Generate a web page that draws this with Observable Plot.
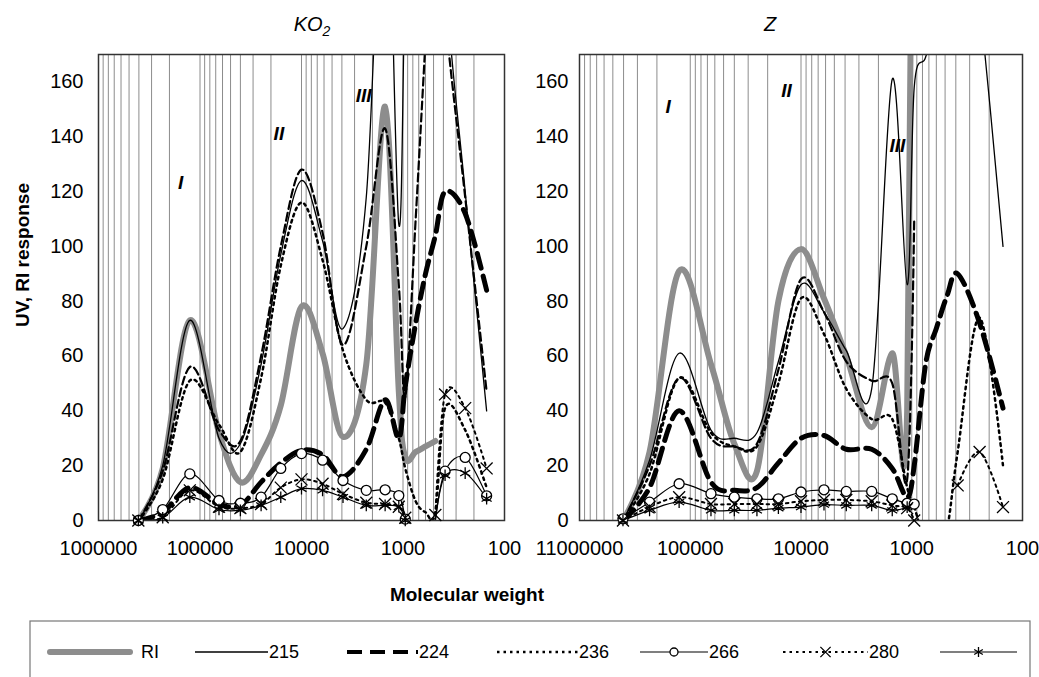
<!DOCTYPE html>
<html><head><meta charset="utf-8">
<script src="https://cdn.jsdelivr.net/npm/d3@7"></script>
<script src="https://cdn.jsdelivr.net/npm/@observablehq/plot@0.6"></script>
<style>
html,body{margin:0;padding:0;background:#fff;}
#root{position:relative;width:1039px;height:677px;overflow:hidden;font-family:"Liberation Sans",Arial,sans-serif;}
#root > svg{position:absolute;}
</style></head><body><div id="root"></div>
<script>
// ---- data ----
const mw = [405000, 233000, 126000, 65000, 40000, 25000, 16000, 10000, 6200, 3900, 2300, 1500, 1100, 950, 750, 600, 480, 385, 244, 150];

// KO2 panel
const ko2_RI    = [0, 19, 73, 32, 14, 24, 42, 78, 61, 30.5, 57, 151, 47, 23, 25, 27, 29, null, null, null];
const ko2_215   = [0, 20, 73, 30, 28, 57, 97, 124, 102, 70, 118, 250, 108, 200, 320, 360, 300, 200, 120, 40];
const ko2_224   = [0, 3, 12, 6, 5.5, 14, 21, 25.6, 24, 16, 26, 44, 30, 49, 72, 90, 104, 120, 112, 84];
const ko2_236   = [0, 15, 51, 35, 25, 52, 93, 116, 95, 62, 44, 43, 30, 19, 7, 3, 3, 41, 33, 12];
const ko2_266   = [0, 4, 17, 7.3, 6.3, 8.5, 19, 24.4, 22, 14.6, 11, 11.2, 9.1, 0.5, null, null, 0, 18, 23, 9];
const ko2_280   = [0, 1.2, 11, 5, 4.5, 6, 12, 15, 13.4, 9.7, 6.5, 6, 5, 1, null, null, 2, 46, 41, 19];
const ko2_ast   = [0, 1, 8.5, 4, 3.7, 5.5, 8.5, 11.6, 11, 8.5, 5.5, 5.5, 5, 0, null, null, 0, 16.5, 17.3, 8];
const ko2_extra = [0, 18, 56, 33, 29, 60, 100, 128, 105, 64, 100, 143, 86, 45, 110, 175, 240, 185, 118, 47];

// Z panel
const z_RI    = [0, 25, 91, 57, 28, 18, 80, 99, 81, 60, 34, 61, 40, 400, null, null, null, null, null, null];
const z_215   = [0, 22, 61, 33, 30, 32, 58, 86, 76, 62, 48, 161, 86, 158, 169, 185, 250, 260, 190, 100];
const z_224   = [0, 12, 40, 14, 11, 12, 21, 30, 31, 26, 26, 19, 8.5, 20, 57, 70, 82, 90, 72, 41];
const z_236   = [0, 17, 52, 32, 27, 27, 50, 81, 68, 48, 37, 37, 12, 5, -8, -10, -3, 25, 74, 20];
const z_266   = [0.6, 6.7, 13.4, 9.8, 8.5, 7.9, 7.9, 10.4, 11.2, 10.6, 10.6, 7.9, 6.3, 6, null, null, null, null, null, null];
const z_280   = [0, 5, 8.5, 6, 6, 6, 6, 7, 7.5, 7.5, 7, 5.5, 4.5, 0, null, null, null, 12.8, 25, 4.9];
const z_ast   = [0, 3.7, 6.7, 3.7, 3.7, 3.7, 4.5, 4.9, 5.8, 5.5, 5.5, 3.7, 4.9, null, null, null, null, null, null, null];
const z_extra = [0, 20, 52, 30, 27, 28, 55, 88, 76, 58, 51, 50, 15, 110, null, null, null, null, null, null];

const xTicks = [1000000, 100000, 10000, 1000, 100];
const yTicks = [0, 20, 40, 60, 80, 100, 120, 140, 160];
const romanLabels = ["I", "II", "III"];
const ko2RomanMW = [155000, 16700, 2440];
const ko2RomanV  = [123, 141, 155];
const zRomanMW   = [158000, 13500, 1350];
const zRomanV    = [151, 156.6, 136.5];
const legendLabels = ["RI", "215", "224", "236", "266", "280", ""];
const panelTitles = ["KO", "Z"];

// ---- styles ----
const FONT = '"Liberation Sans", Arial, sans-serif';
const st = {
  RI:    {stroke: "#8d8d8d", strokeWidth: 6, strokeLinecap: "round"},
  s215:  {stroke: "#000", strokeWidth: 1.3},
  s224:  {stroke: "#000", strokeWidth: 5, strokeDasharray: "15,8"},
  s236:  {stroke: "#000", strokeWidth: 2.5, strokeDasharray: "2.5,4"},
  s266:  {stroke: "#000", strokeWidth: 1.2},
  s280:  {stroke: "#000", strokeWidth: 2, strokeDasharray: "2.5,4"},
  ast:   {stroke: "#000", strokeWidth: 1.2},
  extra: {stroke: "#000", strokeWidth: 2.2, strokeDasharray: "8,4"}
};
const markerSym = {s266: "circle", s280: "times", ast: "asterisk"};

const gridVals = [];
for (let k = 2; k <= 5; k++) for (let m = 1; m <= 9; m++) gridVals.push(m * Math.pow(10, k));
gridVals.push(1e6);

function rows(arr) { return mw.map((m, i) => ({mw: m, v: arr[i], i})); }

function panel(series, roman, o) {
  const order = ["RI", "s224", "extra", "s236", "s215", "s280", "s266", "ast"];
  const marks = [Plot.ruleX(gridVals, {stroke: "#8c8c8c", strokeWidth: 1})];
  for (const k of order) {
    marks.push(Plot.line(rows(series[k]), {x: "mw", y: "v", curve: "cardinal", clip: true, ...st[k]}));
  }
  marks.push(Plot.frame({stroke: "#333", strokeWidth: 1.5}));
  for (const k of ["s266", "s280", "ast"]) {
    const d = rows(series[k]).filter(r => r.v != null && (r.v > 0 || r.i === 0 || r.i === 13));
    const sym = markerSym[k];
    marks.push(Plot.dot(d, {x: "mw", y: "v", symbol: sym, r: sym === "circle" ? 5 : 5.5,
      stroke: "#000", strokeWidth: 1.3, fill: sym === "circle" ? "white" : "none"}));
  }
  marks.push(Plot.axisX({ticks: xTicks, tickFormat: o.fmt, tickSize: 0, tickPadding: 20, label: null, fontSize: 20}));
  marks.push(Plot.axisY({ticks: yTicks, tickSize: 0, tickPadding: o.tp, label: null, fontSize: 20}));
  marks.push(Plot.text(roman, {x: "mw", y: "v", text: "label", fontStyle: "italic", fontWeight: "bold", fontSize: 19}));
  return Plot.plot({
    width: o.width, height: 570,
    marginLeft: o.ml, marginRight: o.mr, marginTop: 54, marginBottom: 50,
    x: {type: "log", domain: [1e6, 100]},
    y: {domain: [0, 170]},
    style: {fontFamily: FONT, fontSize: "20px", background: "none", color: "#000", overflow: "visible"},
    marks
  });
}

const root = document.getElementById("root");

const left = panel(
  {RI: ko2_RI, s215: ko2_215, s224: ko2_224, s236: ko2_236, s266: ko2_266, s280: ko2_280, ast: ko2_ast, extra: ko2_extra},
  romanLabels.map((l, i) => ({label: l, mw: ko2RomanMW[i], v: ko2RomanV[i]})),
  {width: 520, ml: 98, mr: 16, tp: 15, fmt: d => String(d)}
);
left.style.left = "0px"; left.style.top = "0px";
root.appendChild(left);

const right = panel(
  {RI: z_RI, s215: z_215, s224: z_224, s236: z_236, s266: z_266, s280: z_280, ast: z_ast, extra: z_extra},
  romanLabels.map((l, i) => ({label: l, mw: zRomanMW[i], v: zRomanV[i]})),
  {width: 519, ml: 59, mr: 17, tp: 11, fmt: d => d === 1e6 ? "11000000" : String(d)}
);
right.style.left = "520px"; right.style.top = "0px";
root.appendChild(right);

// ---- overlay: titles, axis labels, legend ----
const ov = d3.select(root).append("svg")
  .attr("width", 1039).attr("height", 677)
  .style("left", "0px").style("top", "0px").style("pointer-events", "none")
  .style("font-family", FONT);

const t1 = ov.append("text").attr("x", 312).attr("y", 31).attr("text-anchor", "middle")
  .attr("font-size", 20).attr("font-style", "italic");
t1.append("tspan").text(panelTitles[0]);
t1.append("tspan").attr("font-size", 14).attr("dy", 5).text("2");
ov.append("text").attr("x", 770).attr("y", 31).attr("text-anchor", "middle")
  .attr("font-size", 20).attr("font-style", "italic").text(panelTitles[1]);

ov.append("text").attr("x", 467).attr("y", 601).attr("text-anchor", "middle")
  .attr("font-size", 19).attr("font-weight", "bold").text("Molecular weight");
ov.append("text").attr("transform", "translate(29,255) rotate(-90)").attr("text-anchor", "middle")
  .attr("font-size", 19).attr("font-weight", "bold").text("UV, RI response");

// legend
ov.append("rect").attr("x", 30).attr("y", 621).attr("width", 1000).attr("height", 90)
  .attr("fill", "none").attr("stroke", "#777").attr("stroke-width", 1.2);
const legKeys = ["RI", "s215", "s224", "s236", "s266", "s280", "ast"];
const sx0 = [50, 195, 347, 497, 640, 783, 940];
const sx1 = [130, 268, 418, 578, 708, 868, 1017];
const ly = 652;
legKeys.forEach((k, i) => {
  const s = st[k];
  ov.append("line").attr("x1", sx0[i]).attr("x2", sx1[i]).attr("y1", ly).attr("y2", ly)
    .attr("stroke", s.stroke).attr("stroke-width", k === "s224" ? 4 : s.strokeWidth)
    .attr("stroke-dasharray", s.strokeDasharray || null)
    .attr("stroke-linecap", s.strokeLinecap || "butt");
  const cx = (sx0[i] + sx1[i]) / 2;
  if (markerSym[k] === "circle") {
    ov.append("circle").attr("cx", cx).attr("cy", ly).attr("r", 4).attr("fill", "white").attr("stroke", "#000").attr("stroke-width", 1.3);
  } else if (markerSym[k]) {
    const sym = markerSym[k] === "times" ? d3.symbolTimes : d3.symbolAsterisk;
    ov.append("path").attr("d", d3.symbol(sym, 70)()).attr("transform", `translate(${cx},${ly})`)
      .attr("fill", "none").attr("stroke", "#000").attr("stroke-width", 1.3);
  }
  if (legendLabels[i]) {
    ov.append("text").attr("x", sx1[i] + (k === "RI" ? 11 : 1)).attr("y", ly).attr("dy", "0.35em")
      .attr("font-size", 18).text(legendLabels[i]);
  }
});
</script></body></html>
